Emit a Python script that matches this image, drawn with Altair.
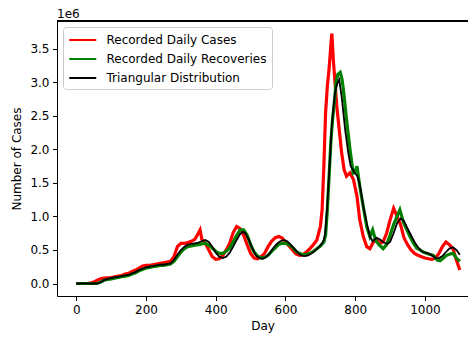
import altair as alt
import pandas as pd

series_names = ["Recorded Daily Cases", "Recorded Daily Recoveries", "Triangular Distribution"]
series_colors = ["#ff0000", "#008000", "#000000"]

x_ticks = [0, 200, 400, 600, 800, 1000]
y_ticks = [0.0, 0.5, 1.0, 1.5, 2.0, 2.5, 3.0, 3.5]
offset_label = ["1e6"]

# values in units of 1e6
cases_days = [0, 10, 20, 30, 40, 50, 60, 70, 80, 90, 100, 110, 120, 130, 140, 150, 160, 170, 180, 190,
              200, 210, 220, 230, 240, 250, 260, 270, 280, 290, 300, 310, 320, 330, 340, 350, 355, 360,
              370, 380, 390, 400, 410, 420, 430, 440, 450, 460, 470, 480, 490, 500, 510, 520, 530, 540,
              550, 560, 570, 580, 590, 600, 610, 620, 630, 640, 650, 660, 670, 680, 690, 695, 700, 705,
              710, 715, 720, 725, 730, 733, 737, 742, 747, 754, 761, 768, 775, 785, 795, 805, 813, 823,
              833, 842, 852, 862, 872, 880, 890, 900, 910, 920, 930, 940, 950, 960, 970, 980, 990, 1000,
              1010, 1020, 1030, 1040, 1050, 1060, 1070, 1080, 1090, 1100]
cases_vals = [0, 0, 0, 0, 0.005, 0.02, 0.05, 0.07, 0.08, 0.085, 0.09, 0.10, 0.11, 0.12, 0.14, 0.15, 0.18,
              0.20, 0.23, 0.26, 0.27, 0.27, 0.28, 0.29, 0.30, 0.31, 0.32, 0.33, 0.40, 0.55, 0.60, 0.60,
              0.61, 0.63, 0.66, 0.75, 0.80, 0.66, 0.60, 0.50, 0.40, 0.36, 0.37, 0.42, 0.50, 0.60, 0.76,
              0.85, 0.82, 0.72, 0.58, 0.45, 0.38, 0.37, 0.40, 0.45, 0.55, 0.63, 0.68, 0.70, 0.68, 0.62,
              0.56, 0.50, 0.44, 0.42, 0.43, 0.47, 0.52, 0.58, 0.65, 0.75, 0.85, 1.10, 1.75, 2.55, 2.95,
              3.20, 3.55, 3.73, 3.35, 3.00, 2.65, 2.30, 1.95, 1.70, 1.60, 1.65, 1.55, 1.30, 0.95, 0.70,
              0.55, 0.52, 0.62, 0.65, 0.60, 0.62, 0.75, 0.95, 1.12, 1.00, 0.88, 0.68, 0.58, 0.50, 0.45,
              0.42, 0.40, 0.38, 0.37, 0.36, 0.38, 0.45, 0.55, 0.62, 0.58, 0.52, 0.35, 0.20]

recov_days = [0, 10, 20, 30, 40, 50, 60, 70, 80, 90, 100, 110, 120, 130, 140, 150, 160, 170, 180, 190,
              200, 210, 220, 230, 240, 250, 260, 270, 280, 290, 300, 310, 320, 330, 340, 350, 360, 370,
              380, 390, 400, 410, 420, 430, 440, 450, 460, 470, 480, 490, 500, 510, 520, 530, 540, 550,
              560, 570, 580, 590, 600, 610, 620, 630, 640, 650, 660, 670, 680, 690, 700, 710, 715, 720,
              725, 730, 735, 740, 745, 750, 757, 762, 767, 775, 785, 794, 800, 805, 813, 823, 833, 842,
              850, 858, 868, 880, 890, 900, 910, 920, 928, 938, 948, 957, 967, 976, 986, 995, 1010, 1024,
              1035, 1043, 1053, 1062, 1072, 1081, 1090, 1100]
recov_vals = [0, 0, 0, 0, 0, 0, 0, 0.02, 0.05, 0.06, 0.07, 0.08, 0.09, 0.10, 0.11, 0.12, 0.14, 0.16,
              0.19, 0.21, 0.23, 0.24, 0.25, 0.26, 0.27, 0.27, 0.28, 0.29, 0.33, 0.40, 0.47, 0.52, 0.55,
              0.56, 0.57, 0.58, 0.59, 0.60, 0.57, 0.53, 0.48, 0.45, 0.45, 0.48, 0.53, 0.62, 0.72, 0.80,
              0.80, 0.72, 0.58, 0.47, 0.41, 0.38, 0.39, 0.42, 0.48, 0.53, 0.58, 0.60, 0.60, 0.58, 0.54,
              0.48, 0.45, 0.43, 0.43, 0.45, 0.48, 0.52, 0.56, 0.62, 0.72, 1.10, 1.60, 2.10, 2.45, 2.70,
              3.00, 3.12, 3.15, 3.05, 2.85, 2.45, 2.00, 1.65, 1.68, 1.75, 1.45, 1.15, 0.85, 0.70, 0.80,
              0.65, 0.58, 0.52, 0.58, 0.72, 0.88, 1.00, 1.10, 0.92, 0.80, 0.70, 0.60, 0.53, 0.50, 0.47,
              0.44, 0.42, 0.35, 0.34, 0.38, 0.42, 0.44, 0.45, 0.38, 0.33]

tri_days = [0, 10, 20, 30, 40, 50, 60, 70, 80, 90, 100, 110, 120, 130, 140, 150, 160, 170, 180, 190,
            200, 210, 220, 230, 240, 250, 260, 270, 280, 290, 300, 310, 320, 330, 340, 350, 360, 370,
            380, 390, 400, 410, 420, 430, 440, 450, 460, 470, 478, 485, 495, 505, 515, 525, 535, 545,
            555, 565, 575, 585, 595, 605, 615, 625, 635, 645, 655, 665, 675, 685, 695, 705, 710, 714,
            719, 723, 728, 732, 737, 742, 748, 754, 761, 766, 771, 780, 787, 799, 806, 812, 818, 823,
            833, 842, 850, 861, 870, 880, 892, 900, 910, 920, 930, 940, 950, 960, 970, 980, 990, 1000,
            1010, 1020, 1030, 1040, 1050, 1060, 1070, 1080, 1090, 1100]
tri_vals = [0, 0, 0, 0, 0, 0, 0, 0.02, 0.05, 0.07, 0.08, 0.09, 0.10, 0.11, 0.12, 0.13, 0.15, 0.17, 0.20,
            0.22, 0.24, 0.25, 0.26, 0.27, 0.28, 0.28, 0.29, 0.30, 0.35, 0.43, 0.50, 0.55, 0.58, 0.59,
            0.60, 0.61, 0.63, 0.65, 0.62, 0.55, 0.46, 0.40, 0.38, 0.40, 0.46, 0.55, 0.65, 0.74, 0.77,
            0.75, 0.65, 0.52, 0.42, 0.38, 0.37, 0.40, 0.45, 0.53, 0.59, 0.63, 0.65, 0.63, 0.58, 0.52,
            0.46, 0.42, 0.41, 0.42, 0.45, 0.49, 0.54, 0.60, 0.65, 0.76, 1.10, 1.45, 1.90, 2.30, 2.60,
            2.84, 2.98, 3.04, 2.79, 2.55, 2.30, 1.95, 1.75, 1.65, 1.60, 1.50, 1.32, 1.15, 0.90, 0.70,
            0.63, 0.68, 0.66, 0.62, 0.59, 0.62, 0.75, 0.90, 0.97, 0.93, 0.82, 0.72, 0.62, 0.54, 0.48,
            0.46, 0.45, 0.42, 0.38, 0.38, 0.41, 0.47, 0.52, 0.54, 0.50, 0.43]

W, H = 411, 275
FONT = "DejaVu Sans"

df_cases = pd.DataFrame({"day": cases_days, "value": cases_vals, "series": series_names[0]})
df_recov = pd.DataFrame({"day": recov_days, "value": recov_vals, "series": series_names[1]})
df_tri = pd.DataFrame({"day": tri_days, "value": tri_vals, "series": series_names[2]})
df_label = pd.DataFrame({"label": offset_label})

x_enc = alt.X("day:Q", title="Day",
              scale=alt.Scale(domain=[-55.3, 1123.4], nice=False, zero=False),
              axis=alt.Axis(values=x_ticks, format="d"))
y_enc = alt.Y("value:Q", title="Number of Cases",
              scale=alt.Scale(domain=[-0.1865, 3.9165], nice=False, zero=False),
              axis=alt.Axis(values=y_ticks, format=".1f"))
color_enc = alt.Color("series:N",
                      scale=alt.Scale(domain=series_names, range=series_colors),
                      legend=alt.Legend(title=None, orient="none", legendX=6, legendY=6,
                                        symbolType="M-1,0H3", symbolSize=182, symbolStrokeWidth=2,
                                        labelFont=FONT, labelFontSize=12, labelColor="black",
                                        labelOffset=22.5, rowPadding=5, padding=5,
                                        fillColor="white", strokeColor="#cccccc",
                                        cornerRadius=3))

def layer(df, width):
    return alt.Chart(df).mark_line(strokeWidth=width, clip=True).encode(
        x=x_enc, y=y_enc, color=color_enc, order=alt.Order("day:Q"))

top_rule = alt.Chart(df_tri).mark_rule(color="black", strokeWidth=1).encode(
    x=alt.value(0), x2=alt.value(W), y=alt.value(0))

offset_text = alt.Chart(df_label).mark_text(
    font=FONT, fontSize=12, color="black", align="left", baseline="alphabetic"
).encode(text="label:N", x=alt.value(0), y=alt.value(-3))

chart = alt.layer(
    layer(df_cases, 3.2),
    layer(df_recov, 3.2),
    layer(df_tri, 1.8),
    top_rule,
    offset_text,
).properties(
    width=W, height=H,
    autosize=alt.AutoSizeParams(type="none"),
    padding={"left": 49, "top": 13, "right": 0, "bottom": 37},
).configure_view(stroke=None).configure_axis(
    grid=False, labelFont=FONT, labelFontSize=12, labelColor="black",
    titleFont=FONT, titleFontSize=12, titleFontWeight="normal", titleColor="black",
    domainColor="black", tickColor="black", tickSize=4.5, labelPadding=3.5,
).configure_axisX(titlePadding=5).configure_axisY(titlePadding=6)

chart.save("out.html", embed_options={"renderer": "svg", "actions": False})
